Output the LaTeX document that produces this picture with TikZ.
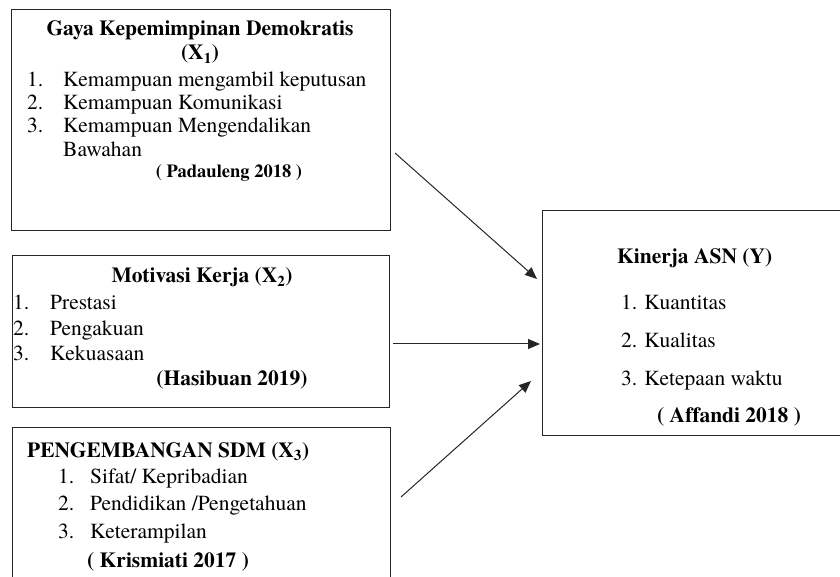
\documentclass[tikz,border=0pt]{standalone}
\usepackage{fontspec}
\setmainfont{TeX Gyre Termes}[Ligatures=NoCommon]
\usetikzlibrary{arrows.meta}
\tikzset{
  x=1pt,y=1pt,
  box/.style={draw=black!85,line width=1pt,rectangle,inner sep=0pt},
  txt/.style={inner sep=0pt,font=\fontsize{21.5}{24}\selectfont,anchor=base west},
  ctxt/.style={txt,anchor=base},
  btxt/.style={txt,font=\fontsize{21.5}{24}\selectfont\bfseries},
  bctxt/.style={btxt,anchor=base},
  arr/.style={line width=1pt,draw=black!85,-{Triangle[length=12pt,width=10pt]}}
}
\begin{document}
\begin{tikzpicture}
\useasboundingbox (0,0) rectangle (840,576);
\clip (0,0) rectangle (840,576);
% boxes
\node[box,minimum width=379pt,minimum height=221pt] (b1) at (200.5,455.5) {};
\node[box,minimum width=377pt,minimum height=151pt] (b2) at (200.5,244.5) {};
\node[box,minimum width=378pt,minimum height=169pt] (b3) at (201,64.5) {};
\node[box,minimum width=308pt,minimum height=224pt] (by) at (696,253) {};
% box 1
\node[bctxt] (t1) at (200,540) {Gaya Kepemimpinan Demokratis};
\node[bctxt] (t1x) at (200,516) {(X\textsubscript{1})};
\node[txt] (n11) at (27,489) {1.};
\node[txt] (i11) at (63,489) {Kemampuan mengambil keputusan};
\node[txt] (n12) at (27,466) {2.};
\node[txt] (i12) at (63,466) {Kemampuan Komunikasi};
\node[txt] (n13) at (27,443) {3.};
\node[txt] (i13) at (63,443) {Kemampuan Mengendalikan};
\node[txt] (i14) at (63,419) {Bawahan};
\node[bctxt,font=\fontsize{18.5}{20}\selectfont\bfseries] (s1) at (229,398) {( Padauleng 2018 )};
% box 2
\node[bctxt] (t2) at (202,293) {Motivasi Kerja (X\textsubscript{2})};
\node[txt] (n21) at (13,266) {1.};
\node[txt] (i21) at (50,266) {Prestasi};
\node[txt] (n22) at (13,240) {2.};
\node[txt] (i22) at (50,240) {Pengakuan};
\node[txt] (n23) at (13,215) {3.};
\node[txt] (i23) at (50,215) {Kekuasaan};
\node[bctxt] (s2) at (232,191) {(Hasibuan 2019)};
% box 3
\node[btxt] (t3) at (27,119) {PENGEMBANGAN SDM (X\textsubscript{3})};
\node[txt] (n31) at (58,93) {1.};
\node[txt] (i31) at (90,93) {Sifat/ Kepribadian};
\node[txt] (n32) at (58,66) {2.};
\node[txt] (i32) at (90,66) {Pendidikan /Pengetahuan};
\node[txt] (n33) at (58,38) {3.};
\node[txt] (i33) at (90,38) {Keterampilan};
\node[btxt] (s3) at (87,9) {( Krismiati 2017 )};
% box Y
\node[btxt] (ty) at (617,312) {Kinerja ASN (Y)};
\node[txt] (iy1) at (621,266) {1. Kuantitas};
\node[txt] (iy2) at (621,229) {2. Kualitas};
\node[txt] (iy3) at (621,190) {3. Ketepaan waktu};
\node[btxt] (sy) at (657,154) {( Affandi 2018 )};
% arrows
\coordinate (a1s) at (395,423);
\coordinate (a1e) at (537,297);
\coordinate (a2s) at (393,232);
\coordinate (a2e) at (540,232);
\coordinate (a3s) at (401,79);
\coordinate (a3e) at (531,195);
\draw[arr] (a1s) -- (a1e);
\draw[arr] (a2s) -- (a2e);
\draw[arr] (a3s) -- (a3e);
\end{tikzpicture}
\end{document}
